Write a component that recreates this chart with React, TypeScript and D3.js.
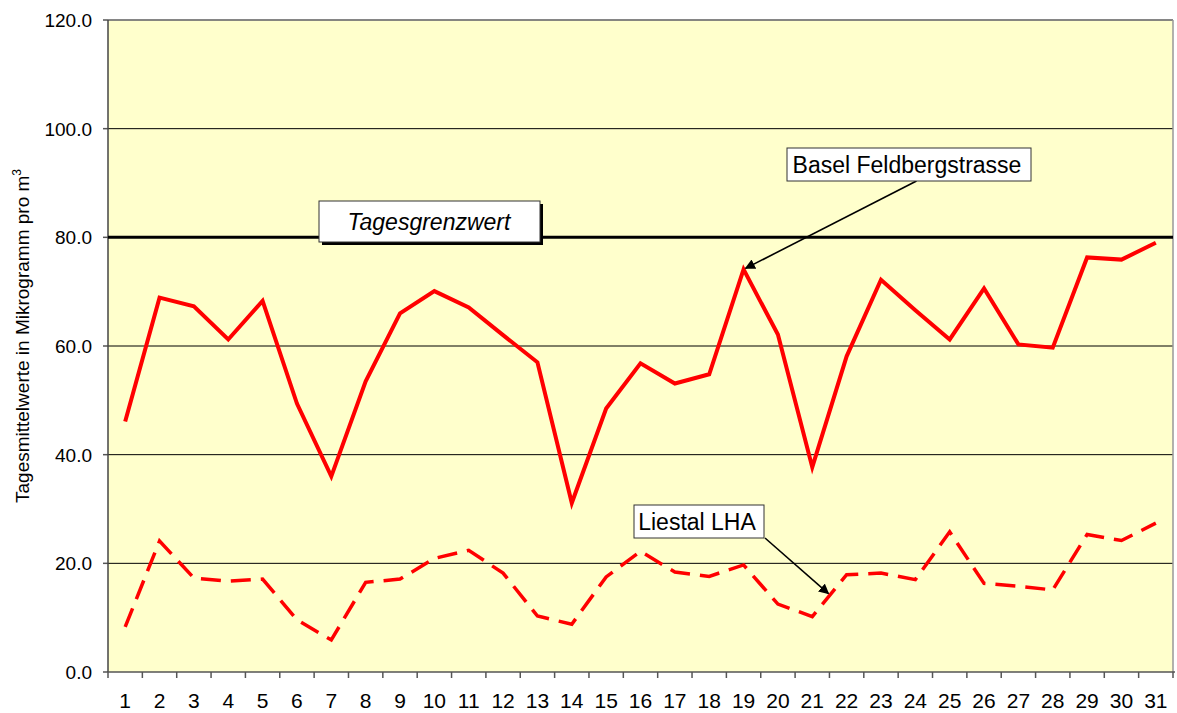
import React from "react";
import * as d3 from "d3";

const days: number[] = Array.from({ length: 31 }, (_, i) => i + 1);
const basel: number[] = [46.1, 68.9, 67.3, 61.2, 68.3, 49.4, 36.0, 53.5, 66.0, 70.1, 67.1, 62.0, 57.0, 31.1, 48.5, 56.8, 53.1, 54.8, 74.1, 62.1, 37.7, 58.1, 72.2, 66.6, 61.2, 70.6, 60.3, 59.7, 76.3, 75.9, 79.0];
const liestal: number[] = [8.3, 24.1, 17.3, 16.7, 17.1, 9.6, 5.9, 16.5, 17.1, 20.9, 22.4, 18.2, 10.3, 8.8, 17.5, 22.2, 18.4, 17.6, 19.7, 12.5, 10.2, 17.9, 18.2, 17.0, 25.8, 16.3, 15.8, 15.1, 25.3, 24.2, 27.4];
const yTicks: number[] = [0, 20, 40, 60, 80, 100, 120];
const limitValue = 80;
const limitLabel = "Tagesgrenzwert";
const baselLabel = "Basel Feldbergstrasse";
const liestalLabel = "Liestal LHA";
const yAxisLabel = "Tagesmittelwerte in Mikrogramm pro m";

export default function App() {
  const W = 1177, H = 713;
  const left = 108, right = 1173, top = 20, bottom = 672;
  const x = d3.scaleBand<number>().domain(days).range([left, right]);
  const y = d3.scaleLinear().domain([0, 120]).range([bottom, top]);
  const cx = (d: number) => (x(d) as number) + x.bandwidth() / 2;
  const line = d3.line<number>().x((_, i) => cx(days[i])).y((v) => y(v));
  const font = "'Liberation Sans', Arial, sans-serif";
  const bounds = days.map((d) => x(d) as number).concat([right]);

  const b19 = [cx(19), y(basel[18])];
  const l21 = [(cx(21) + cx(22)) / 2, (y(liestal[20]) + y(liestal[21])) / 2];

  return (
    <div style={{ position: "absolute", left: 0, top: 0 }}>
      <svg width={W} height={H} style={{ display: "block", fontFamily: font }}>
        <defs>
          <marker id="arr" viewBox="0 0 10 10" refX="9" refY="5" markerWidth="6.5" markerHeight="6.5" orient="auto" markerUnits="strokeWidth">
            <path d="M0,0 L10,5 L0,10 z" fill="#000" />
          </marker>
        </defs>
        <rect x={0} y={0} width={W} height={H} fill="#fff" />
        <rect x={left} y={top} width={right - left} height={bottom - top} fill="#FFFFCC" />
        {yTicks.map((t) => (
          <g key={t}>
            {t > 0 && t !== limitValue && (
              <line x1={left} x2={right} y1={y(t)} y2={y(t)} stroke="#000" strokeWidth={1} />
            )}
            <line x1={left - 5} x2={left} y1={y(t)} y2={y(t)} stroke="#555" strokeWidth={1.5} />
            <text x={left - 16} y={y(t)} dy="0.36em" textAnchor="end" fontSize={19} fill="#000">
              {t.toFixed(1)}
            </text>
          </g>
        ))}
        <line x1={left} x2={right} y1={top} y2={top} stroke="#888" strokeWidth={1.5} />
        <line x1={right} x2={right} y1={top} y2={bottom} stroke="#999" strokeWidth={1.5} />
        <line x1={left} x2={left} y1={top} y2={bottom} stroke="#444" strokeWidth={1.5} />
        <line x1={left} x2={right + 2} y1={bottom} y2={bottom} stroke="#555" strokeWidth={1.5} />
        {bounds.map((b, i) => (
          <line key={i} x1={b} x2={b} y1={bottom} y2={bottom + 6} stroke="#555" strokeWidth={1.5} />
        ))}
        {days.map((d) => (
          <text key={d} x={cx(d)} y={708} textAnchor="middle" fontSize={21} fill="#000">
            {d}
          </text>
        ))}
        <line x1={left} x2={right} y1={y(limitValue)} y2={y(limitValue)} stroke="#000" strokeWidth={3} />
        <path d={line(liestal) || ""} fill="none" stroke="#FF0000" strokeWidth={3.5} strokeDasharray="20 10" />
        <path d={line(basel) || ""} fill="none" stroke="#FF0000" strokeWidth={4} strokeLinejoin="miter" />

        <rect x={322} y={204} width={221} height={41} fill="#000" />
        <rect x={319} y={201} width={221} height={41} fill="#fff" stroke="#333" strokeWidth={1} />
        <text x={429} y={221.5} dy="0.35em" textAnchor="middle" fontSize={23} fontStyle="italic" fill="#000">
          {limitLabel}
        </text>

        <line x1={916.5} y1={181} x2={b19[0] + 2} y2={b19[1] - 1} stroke="#000" strokeWidth={1.6} markerEnd="url(#arr)" />
        <rect x={787} y={148} width={244} height={33} fill="#fff" stroke="#333" strokeWidth={1} />
        <text x={907} y={164.5} dy="0.35em" textAnchor="middle" fontSize={23} fill="#000">
          {baselLabel}
        </text>

        <line x1={765} y1={538} x2={l21[0] - 1} y2={l21[1] - 2} stroke="#000" strokeWidth={1.6} markerEnd="url(#arr)" />
        <rect x={634} y={505} width={130} height={33} fill="#fff" stroke="#333" strokeWidth={1} />
        <text x={697} y={521.5} dy="0.35em" textAnchor="middle" fontSize={23} fill="#000">
          {liestalLabel}
        </text>

        <text transform={`translate(29,336) rotate(-90)`} textAnchor="middle" fontSize={19} fill="#000">
          {yAxisLabel}
          <tspan dy={-8} fontSize={12}>3</tspan>
        </text>
      </svg>
    </div>
  );
}
